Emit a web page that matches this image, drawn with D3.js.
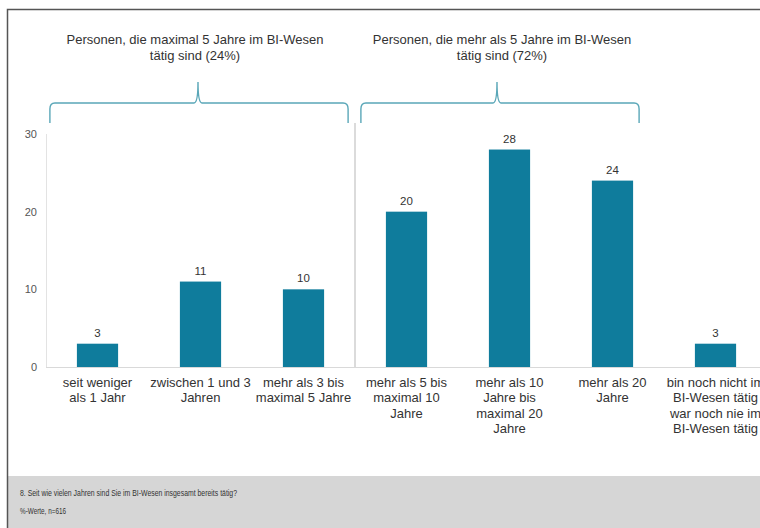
<!DOCTYPE html>
<html>
<head>
<meta charset="utf-8">
<script src="https://cdn.jsdelivr.net/npm/d3@7"></script>
<style>
  body { margin: 0; background: #fff; }
  svg { display: block; font-family: "Liberation Sans", Arial, sans-serif; }
</style>
</head>
<body>
<svg id="chart" width="760" height="528"></svg>
<script>
(function() {
  // data
  var categories = [
    ["seit weniger", "als 1 Jahr"],
    ["zwischen 1 und 3", "Jahren"],
    ["mehr als 3 bis", "maximal 5 Jahre"],
    ["mehr als 5 bis", "maximal 10", "Jahre"],
    ["mehr als 10", "Jahre bis", "maximal 20", "Jahre"],
    ["mehr als 20", "Jahre"],
    ["bin noch nicht im", "BI-Wesen tätig", "war noch nie im", "BI-Wesen tätig"]
  ];
  var values = [3, 11, 10, 20, 28, 24, 3];
  var yTicks = [0, 10, 20, 30];
  var groupLabels = [
    ["Personen, die maximal 5 Jahre im BI-Wesen", "tätig sind (24%)"],
    ["Personen, die mehr als 5 Jahre im BI-Wesen", "tätig sind (72%)"]
  ];
  var groupRanges = [[0, 2], [3, 5]];
  var footer = ["8. Seit wie vielen Jahren sind Sie im BI-Wesen insgesamt bereits tätig?", "%-Werte, n=616"];

  var svg = d3.select("#chart");
  var keys = categories.map(function(c, i) { return "c" + i; });

  var x = d3.scaleBand().domain(keys).range([46, 767]).paddingInner(0.6).paddingOuter(0.3);
  var y = d3.scaleLinear().domain([0, 30]).range([367, 134]);
  var step = x.step();

  // frame + footer band
  svg.append("rect").attr("x", 8).attr("y", 476).attr("width", 760).attr("height", 60).attr("fill", "#d6d6d6");
  svg.append("path").attr("d", "M7.5,528 V9.5 H760").attr("fill", "none").attr("stroke", "#555").attr("stroke-width", 1.5);

  var footW = [217, 46];
  svg.selectAll("text.foot").data(footer).join("text")
    .attr("class", "foot")
    .attr("x", 20).attr("y", function(d, i) { return 496 + i * 18; })
    .attr("font-size", 9).attr("fill", "#333")
    .attr("textLength", function(d, i) { return footW[i]; })
    .attr("lengthAdjust", "spacingAndGlyphs")
    .text(function(d) { return d; });

  // axes
  svg.append("line").attr("x1", 46).attr("x2", 767).attr("y1", y(0) + 0.5).attr("y2", y(0) + 0.5)
    .attr("stroke", "#d9d9d9").attr("stroke-width", 1);
  svg.append("line").attr("x1", 46.5).attr("x2", 46.5).attr("y1", y(30)).attr("y2", y(0))
    .attr("stroke", "#e3e3e3").attr("stroke-width", 1);

  svg.selectAll("text.tick").data(yTicks).join("text")
    .attr("class", "tick")
    .attr("x", 37).attr("y", function(d) { return y(d) + 4; })
    .attr("text-anchor", "end").attr("font-size", 11).attr("fill", "#555")
    .text(function(d) { return d; });

  // separator between groups
  var sepX = x(keys[3]) - step * 0.3;
  svg.append("line").attr("x1", sepX).attr("x2", sepX).attr("y1", 123).attr("y2", y(0))
    .attr("stroke", "#cfcfcf").attr("stroke-width", 1.5);

  // bars
  svg.selectAll("rect.bar").data(values).join("rect")
    .attr("class", "bar")
    .attr("x", function(d, i) { return x(keys[i]); })
    .attr("y", function(d) { return y(d); })
    .attr("width", x.bandwidth())
    .attr("height", function(d) { return y(0) - y(d); })
    .attr("fill", "#0f7c9c");

  svg.selectAll("text.val").data(values).join("text")
    .attr("class", "val")
    .attr("x", function(d, i) { return x(keys[i]) + x.bandwidth() / 2; })
    .attr("y", function(d) { return y(d) - 7; })
    .attr("text-anchor", "middle").attr("font-size", 11.5).attr("fill", "#333")
    .text(function(d) { return d; });

  // category labels
  var cat = svg.selectAll("text.cat").data(categories).join("text")
    .attr("class", "cat")
    .attr("text-anchor", "middle").attr("font-size", 13).attr("fill", "#333");
  cat.each(function(lines, i) {
    var cx = x(keys[i]) + x.bandwidth() / 2;
    d3.select(this).selectAll("tspan").data(lines).join("tspan")
      .attr("x", cx).attr("y", function(d, j) { return 387 + j * 15.3; })
      .text(function(d) { return d; });
  });

  // braces + group titles
  var braceExt = [[-27, 24], [-25, 6]];
  var tipX = [198, 497];
  groupRanges.forEach(function(r, g) {
    var x0 = x(keys[r[0]]) + braceExt[g][0];
    var x1 = x(keys[r[1]]) + x.bandwidth() + braceExt[g][1];
    var t = tipX[g];
    var yb = 103, ye = 123, yt = 82;
    var p = "M" + x0 + "," + ye +
      " V" + (yb + 6) + " Q" + x0 + "," + yb + " " + (x0 + 5) + "," + yb +
      " H" + (t - 4) + " Q" + t + "," + yb + " " + t + "," + yt +
      " Q" + t + "," + yb + " " + (t + 4) + "," + yb +
      " H" + (x1 - 5) + " Q" + x1 + "," + yb + " " + x1 + "," + (yb + 6) +
      " V" + ye;
    svg.append("path").attr("d", p).attr("fill", "none")
      .attr("stroke", "#5aa7b8").attr("stroke-width", 1.4);

    svg.append("text").attr("text-anchor", "middle").attr("font-size", 13).attr("fill", "#333")
      .selectAll("tspan").data(groupLabels[g]).join("tspan")
      .attr("x", (x0 + x1) / 2 + (g === 0 ? -4 : 2))
      .attr("y", function(d, j) { return 44 + j * 16; })
      .text(function(d) { return d; });
  });
})();
</script>
</body>
</html>
